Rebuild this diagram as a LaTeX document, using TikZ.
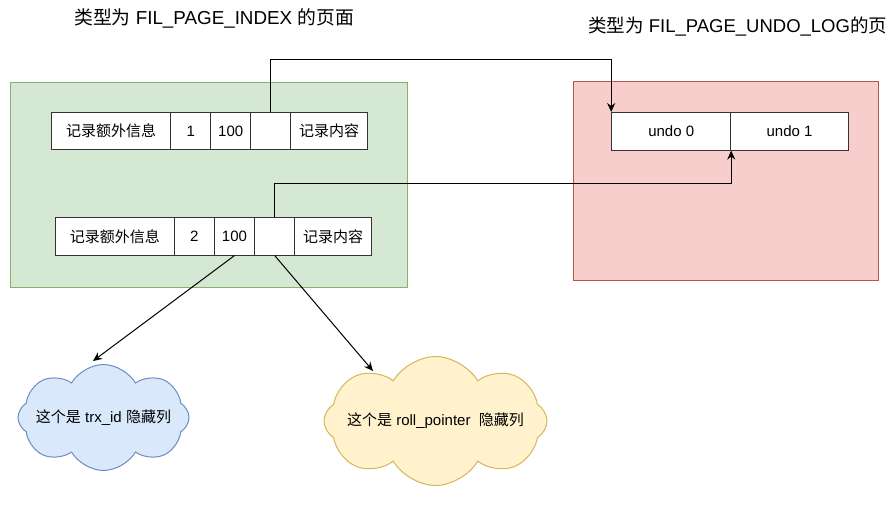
\documentclass[tikz,border=0pt]{standalone}
\usepackage{fontspec}
\setmainfont{Liberation Sans}
\newfontfamily\cjk{Noto Sans CJK SC}
\usetikzlibrary{shapes.symbols,arrows.meta}
\definecolor{gfill}{HTML}{D5E8D4}
\definecolor{gdraw}{HTML}{82B366}
\definecolor{rfill}{HTML}{F8CECC}
\definecolor{rdraw}{HTML}{B85450}
\definecolor{bfill}{HTML}{DAE8FC}
\definecolor{bdraw}{HTML}{6C8EBF}
\definecolor{yfill}{HTML}{FFF2CC}
\definecolor{ydraw}{HTML}{D6B656}
\definecolor{edge}{HTML}{333333}
\tikzset{
  cell/.style={draw=edge, line width=1pt, fill=white, inner sep=0pt, minimum height=37.5pt, font=\fontsize{15}{18}\selectfont},
  conn/.style={draw=black, line width=1pt, -{Stealth[length=9pt,width=8pt]}},
  cloudbox/.style={cloud, cloud puffs=8, cloud puff arc=120, cloud ignores aspect, line width=1pt, inner sep=0pt, font=\fontsize{15}{18}\selectfont},
  title/.style={inner sep=0pt}
}
\begin{document}
\begin{tikzpicture}[x=1pt,y=-1pt]
\useasboundingbox (0,0) rectangle (890,504);
\begin{scope}
\clip (0,0) rectangle (890,504);
% titles
\node[title, anchor=west, font=\fontsize{18.8}{22}\selectfont] (t1) at (74,18) {{\cjk 类型为} FIL\_PAGE\_INDEX {\cjk 的页面}};
\node[title, anchor=west, font=\fontsize{18.5}{22}\selectfont] (t2) at (588,27) {{\cjk 类型为} FIL\_PAGE\_UNDO\_LOG{\cjk 的页}};
% pages
\node[draw=gdraw, fill=gfill, line width=1pt, minimum width=396.7pt, minimum height=205pt, inner sep=0pt, anchor=north west] (gp) at (10,81.7) {};
\node[draw=rdraw, fill=rfill, line width=1pt, minimum width=305.6pt, minimum height=198.7pt, inner sep=0pt, anchor=north west] (rp) at (572.7,81.3) {};
% row 1
\node[cell, minimum width=119pt] (r1a) at (111.2,131.2) {\cjk 记录额外信息};
\node[cell, minimum width=40pt] (r1b) at (190.7,131.2) {1};
\node[cell, minimum width=40pt] (r1c) at (230.7,131.2) {100};
\node[cell, minimum width=40pt] (r1d) at (270.7,131.2) {};
\node[cell, minimum width=76.6pt] (r1e) at (329,131.2) {\cjk 记录内容};
% row 2
\node[cell, minimum width=119pt] (r2a) at (114.8,236.3) {\cjk 记录额外信息};
\node[cell, minimum width=40pt] (r2b) at (194.3,236.3) {2};
\node[cell, minimum width=40.4pt] (r2c) at (234.5,236.3) {100};
\node[cell, minimum width=40pt] (r2d) at (274.7,236.3) {};
\node[cell, minimum width=76.6pt] (r2e) at (333,236.3) {\cjk 记录内容};
% undo log
\node[cell, minimum width=119pt] (u0) at (671.2,131.3) {undo 0};
\node[cell, minimum width=117.6pt] (u1) at (789.5,131.3) {undo 1};
% clouds
\node[cloudbox, draw=bdraw, fill=bfill, minimum width=171pt, minimum height=106pt] (c1) at (103.5,417.5) {\makebox[0pt]{{\cjk 这个是} trx\_id {\cjk 隐藏列}}};
\node[cloudbox, draw=ydraw, fill=yfill, minimum width=223pt, minimum height=129pt] (c2) at (435.5,421) {\makebox[0pt]{\raisebox{2pt}{{\cjk 这个是} roll\_pointer\ \ {\cjk 隐藏列}}}};
% connectors
\draw[conn] (r1d.north) -- ++(0,-52) -| (u0.north west);
\draw[conn] (r2d.north) -- ++(0,-33.4) -| (u0.south east);
\coordinate (tip1) at (93,361);
\coordinate (tip2) at (373,371);
\draw[conn] (r2c.south) -- (tip1);
\draw[conn] (r2d.south) -- (tip2);
\end{scope}
\end{tikzpicture}
\end{document}
